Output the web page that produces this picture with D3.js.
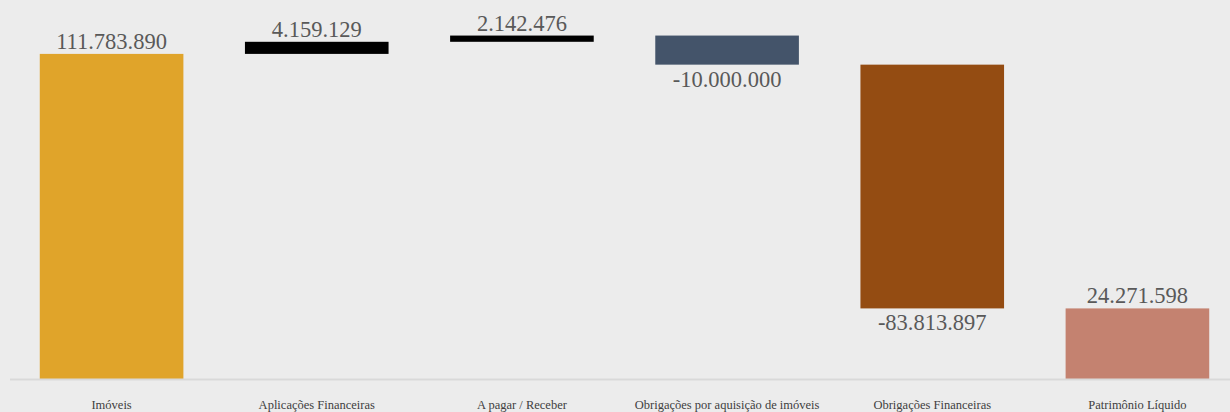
<!DOCTYPE html>
<html>
<head>
<meta charset="utf-8">
<script src="https://cdn.jsdelivr.net/npm/d3@7"></script>
<style>
  body { margin: 0; background: #ECECEC; }
</style>
</head>
<body>
<div id="chart"></div>
<script>
// Waterfall data
const categories = ['Imóveis', 'Aplicações Financeiras', 'A pagar / Receber',
  'Obrigações por aquisição de imóveis', 'Obrigações Financeiras', 'Patrimônio Líquido'];
const values = [111783890, 4159129, 2142476, -10000000, -83813897, 24271598];
const isTotal = [false, false, false, false, false, true];
const colors = ['#E0A42A', '#000000', '#000000', '#44546A', '#944C12', '#C48270'];
const valueLabels = ['111.783.890', '4.159.129', '2.142.476', '-10.000.000', '-83.813.897', '24.271.598'];

// build running totals
let running = 0;
const bars = categories.map((c, i) => {
  let start, end;
  if (isTotal[i]) { start = 0; end = values[i]; running = values[i]; }
  else { start = running; end = running + values[i]; running = end; }
  return {cat: c, start: start, end: end, value: values[i], color: colors[i], label: valueLabels[i]};
});

const width = 1230;
const height = 412;

const x = d3.scaleBand()
  .domain(categories)
  .range([9, 1240])
  .paddingInner(0.3)
  .paddingOuter(0.15);

const y = d3.scaleLinear()
  .domain([0, 120000000])
  .range([379, 30]);

const svg = d3.select('#chart')
  .append('svg')
  .attr('width', width)
  .attr('height', height)
  .style('background', '#ECECEC');

svg.append('g')
  .selectAll('rect')
  .data(bars)
  .join('rect')
  .attr('x', d => x(d.cat))
  .attr('y', d => y(Math.max(d.start, d.end)))
  .attr('width', x.bandwidth())
  .attr('height', d => Math.abs(y(d.start) - y(d.end)))
  .style('fill', d => d.color);

// value labels
svg.append('g')
  .selectAll('text')
  .data(bars)
  .join('text')
  .attr('x', d => x(d.cat) + x.bandwidth() / 2)
  .attr('y', d => d.value >= 0 ? y(d.end) - 5 : y(d.end) + 22)
  .attr('text-anchor', 'middle')
  .style('font-family', '"Liberation Serif", "DejaVu Serif", serif')
  .style('font-size', '22.5px')
  .style('fill', '#595959')
  .text(d => d.label);

// x axis
const xAxis = d3.axisBottom(x).tickSize(0).tickPadding(21);
const gx = svg.append('g')
  .attr('transform', `translate(0, ${y(0) + 0.5})`)
  .call(xAxis);
gx.select('.domain')
  .attr('d', 'M10,0H1230')
  .style('stroke', '#D9D9D9')
  .style('stroke-width', 2);
gx.selectAll('text')
  .style('font-family', '"Liberation Serif", "DejaVu Serif", serif')
  .style('font-size', '12.5px')
  .style('fill', '#404040');
</script>
</body>
</html>
